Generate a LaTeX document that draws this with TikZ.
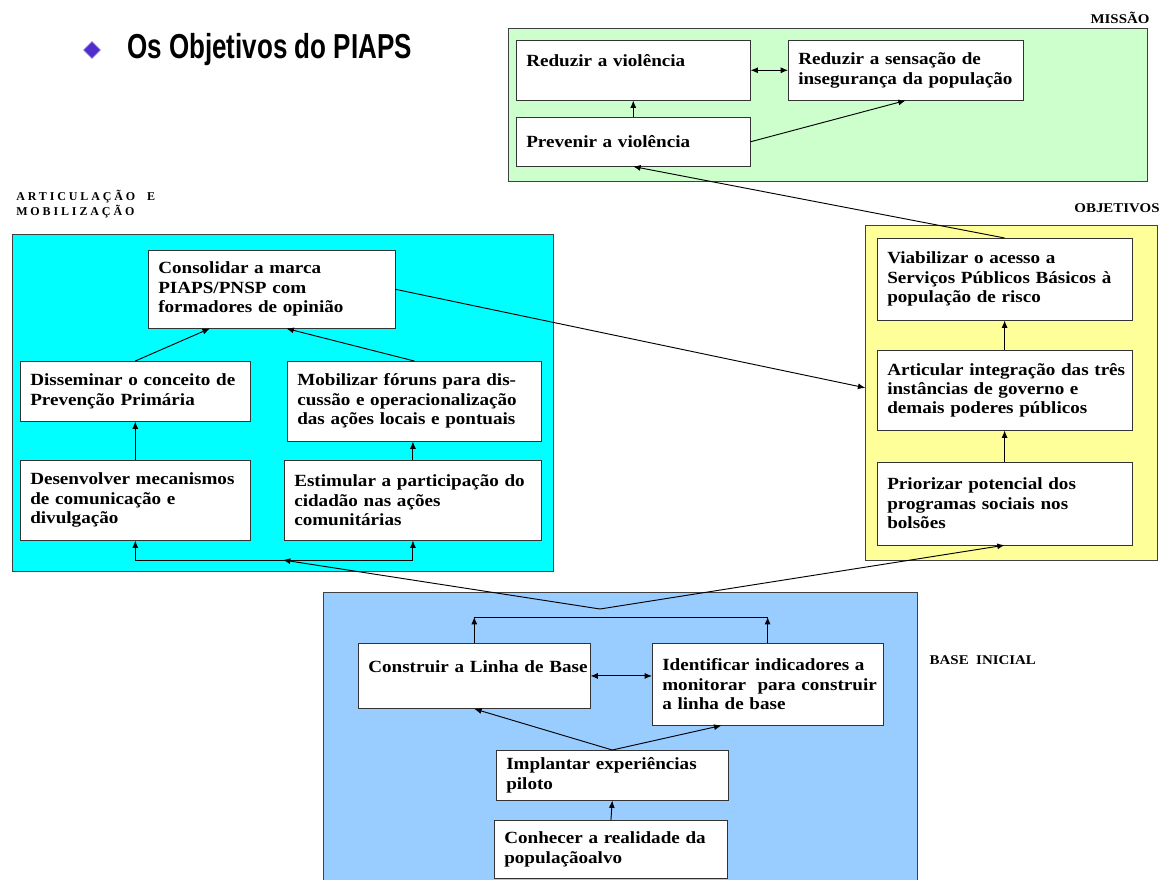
\documentclass[tikz,border=0pt]{standalone}
\usepackage{fontspec}
\usepackage{graphicx}
\setmainfont{Liberation Serif}
\newfontfamily\titlefont{Liberation Sans}
\newfontfamily\boxfont[FakeStretch=1.12]{Liberation Serif}
\usetikzlibrary{calc,shapes.geometric,arrows.meta}
\definecolor{missaocol}{RGB}{204,255,204}
\definecolor{articcol}{RGB}{0,255,255}
\definecolor{objetcol}{RGB}{255,255,153}
\definecolor{basecol}{RGB}{153,204,255}
\definecolor{bulletcol}{RGB}{80,45,205}
\tikzset{
  area/.style 2 args={draw=black!75, anchor=north west, inner sep=0pt, minimum width=#1, minimum height=#2},
  box/.style 2 args={draw=black!80, fill=white, anchor=north west, align=left, inner xsep=0pt, inner ysep=2pt,
    text width=#1, minimum height=#2, font=\boxfont\fontsize{12.8}{14.6}\selectfont\bfseries,
    execute at begin node={\leftskip=7.5pt\rightskip=0pt plus 3em minus 12pt}},
  tag/.style={font=\boxfont\fontsize{10}{12}\selectfont\bfseries},
  link/.style={->, line width=0.7pt},
}
\begin{document}
\begin{tikzpicture}[x=0.75pt, y=-0.75pt, >={Latex[length=5.5pt,width=4.5pt]}]
	\useasboundingbox (0,0) rectangle (1170,880);
	% title
	\node[diamond, fill=bulletcol, draw=bulletcol!45, minimum width=13pt, minimum height=13pt, inner sep=0pt] (bullet) at (92,50) {};
	\node[anchor=west, inner sep=0pt] (title) at (127,50) {\titlefont\bfseries\fontsize{26}{30}\selectfont\scalebox{0.75}[1]{Os Objetivos do PIAPS}};
	% background areas - must be drawn before the boxes!
	\node[area={479.25pt}{114.75pt}, fill=missaocol] (missao) at (508,28) {};
	\node[area={219pt}{251.25pt}, fill=objetcol] (objet) at (865,225) {};
	\node[area={405.75pt}{252.75pt}, fill=articcol] (artic) at (12,234) {};
	\node[area={445.5pt}{222pt}, fill=basecol] (base) at (323,592) {};
	% area labels
	\node[tag] (lmissao) at (1120,18) {MISSÃO};
	\node[tag] (lobjet) at (1117,208) {OBJETIVOS};
	\node[tag, anchor=west] (lbase) at (925,660) {BASE \ INICIAL};
	\node[anchor=north west, align=left, inner sep=0pt, font=\fontsize{9}{11}\selectfont\bfseries\addfontfeature{LetterSpace=24}] (lartic) at (16,190) {ARTICULAÇÃO \ E\\MOBILIZAÇÃO};
	% missao
	\node[box={175.5pt}{45pt}] (redviol) at (516,40) {Reduzir a violência\\ \mbox{}};
	\node[box={176pt}{45pt}] (redsens) at (788,40) {Reduzir a sensação de\\insegurança da população};
	\node[box={175.5pt}{36.75pt}] (prev) at (516,117) {Prevenir a violência};
	% objetivos
	\node[box={191pt}{61.5pt}] (viab) at (877,238) {Viabilizar o acesso a\\Serviços Públicos Básicos à\\população de risco};
	\node[box={191pt}{60pt}] (art) at (877,350) {Articular integração das três\\instâncias de governo e\\demais poderes públicos};
	\node[box={191pt}{62pt}] (prior) at (877,462) {Priorizar potencial dos\\programas sociais nos\\bolsões};
	% articulacao e mobilizacao
	\node[box={185pt}{58.5pt}] (cons) at (148,250) {Consolidar a marca\\PIAPS/PNSP com\\formadores de opinião};
	\node[box={172.5pt}{45pt}] (dis) at (20,361) {Disseminar o conceito de\\Prevenção Primária};
	\node[box={190.5pt}{60pt}] (mob) at (287,361) {Mobilizar fóruns para dis-\\cussão e operacionalização\\das ações locais e pontuais};
	\node[box={172.5pt}{60pt}] (des) at (20,460) {Desenvolver mecanismos\\de comunicação e\\divulgação};
	\node[box={193pt}{60pt}] (est) at (284,460) {Estimular a participação do\\cidadão nas ações\\comunitárias};
	% base inicial
	\node[box={174pt}{49pt}] (constr) at (358,643) {Construir a Linha de Base\\ \mbox{}};
	\node[box={173pt}{61.5pt}] (ident) at (652,643) {Identificar indicadores a\\monitorar \ para construir\\a linha de base};
	\node[box={174pt}{37.5pt}] (impl) at (496,750) {Implantar experiências\\piloto};
	\node[box={175pt}{43.5pt}] (conh) at (494,820) {Conhecer a realidade da\\populaçãoalvo};
	% arrows inside missao
	\draw[link] (prev.north) -- (redviol.south);
	\draw[link, <->] (redviol.east) -- (redsens.west);
	\draw[link] (prev.east) -- (redsens.south);
	\draw[link] (viab.north) -- (prev.south);
	% arrows inside objetivos
	\draw[link] (prior.north) -- (art.south);
	\draw[link] (art.north) -- (viab.south);
	\draw[link, shorten >=9pt] (cons.east) -- (art.west);
	% arrows inside articulacao
	\draw[link] (dis.north) -- ($(cons.south)!0.5!(cons.south west)$);
	\draw[link] (mob.north) -- ($(cons.south)!0.12!(cons.south east)$);
	\draw[link] (des.north) -- (dis.south);
	\draw[link] (est.north) -- (est.north |- mob.south);
	\coordinate (jart) at (283,560);
	\draw[link] (jart) -| (des.south);
	\draw[link] (jart) -| (est.south);
	% the V out of the base
	\coordinate (vtip) at (600,609);
	\coordinate (jbase) at (600,617);
	\draw[link] (vtip) -- (jart);
	\draw[link] (vtip) -- (prior.south);
	% arrows inside base
	\draw[line width=0.7pt] (constr.north |- jbase) -- (ident.north |- jbase);
	\draw[link] (constr.north) -- (constr.north |- jbase);
	\draw[link] (ident.north) -- (ident.north |- jbase);
	\draw[link, <->] (constr.east) -- (constr.east -| ident.west);
	\draw[link] (impl.north) -- (constr.south);
	\draw[link] (impl.north) -- ($(ident.south)!0.4!(ident.south west)$);
	\draw[link] (conh.north) -- (impl.south);
\end{tikzpicture}
\end{document}
